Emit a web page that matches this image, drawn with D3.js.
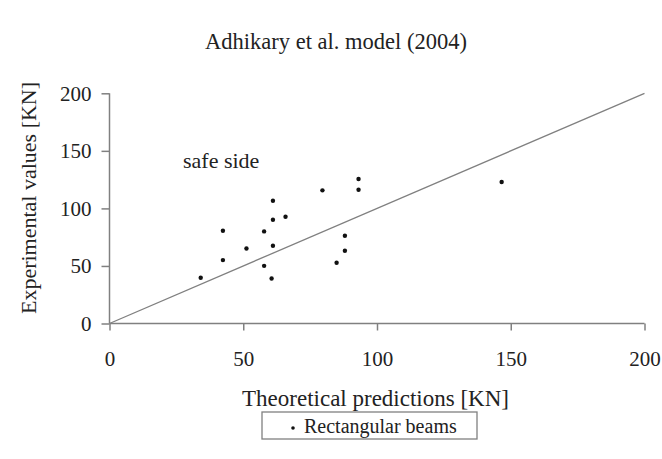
<!DOCTYPE html>
<html>
<head>
<meta charset="utf-8">
<script src="https://cdn.jsdelivr.net/npm/d3@7"></script>
<style>
  body { margin: 0; background: #fff; }
</style>
</head>
<body>
<div id="chart"></div>
<script>
// data
const predicted = [34.1, 42.4, 42.4, 51.2, 57.8, 57.8, 60.6, 61.1, 61.1, 61.1, 65.8, 79.6, 84.9, 88.0, 88.0, 93.1, 93.1, 146.6];
const experimental = [39.7, 55.1, 80.6, 65.2, 80.0, 50.1, 39.1, 67.5, 90.1, 106.7, 92.8, 115.7, 52.8, 76.2, 63.2, 125.5, 116.2, 122.9];
const xTicks = [0, 50, 100, 150, 200];
const yTicks = [0, 50, 100, 150, 200];
const diagonal = [[0, 0], [200, 200]];

const width = 662, height = 459;
const serif = "Liberation Serif";
const axisColor = "#808080";

const svg = d3.select("#chart").append("svg")
  .attr("width", width)
  .attr("height", height);

const x = d3.scaleLinear().domain([0, 200]).range([109.5, 644.5]);
const y = d3.scaleLinear().domain([0, 200]).range([323.5, 93.3]);

// title
svg.append("text")
  .attr("x", 336).attr("y", 49)
  .attr("text-anchor", "middle")
  .attr("font-family", serif)
  .attr("font-size", 22.5)
  .attr("fill", "#222")
  .text("Adhikary et al. model (2004)");

// axes
const xAxis = svg.append("g")
  .attr("transform", `translate(0,${y(0)})`)
  .call(d3.axisBottom(x).tickValues(xTicks).tickSize(7).tickPadding(21));
const yAxis = svg.append("g")
  .attr("transform", `translate(${x(0)},0)`)
  .call(d3.axisLeft(y).tickValues(yTicks).tickSize(8).tickPadding(10));

[xAxis, yAxis].forEach((g) => {
  g.select(".domain").attr("stroke", axisColor).attr("stroke-width", 1.5);
  g.selectAll(".tick line").attr("stroke", axisColor).attr("stroke-width", 1.5);
  g.selectAll(".tick text")
    .attr("fill", "#222")
    .attr("font-family", serif)
    .attr("font-size", 21);
});
xAxis.select(".domain").attr("d", `M${x(0)},0H${x(200)}`);
yAxis.select(".domain").attr("d", `M0,${y(0)}V${y(200)}`);

// y = x line
svg.append("path")
  .datum(diagonal)
  .attr("fill", "none")
  .attr("stroke", axisColor)
  .attr("stroke-width", 1.3)
  .attr("d", d3.line().x((d) => x(d[0])).y((d) => y(d[1])));

// points
svg.append("g")
  .selectAll("circle")
  .data(predicted.map((p, i) => [p, experimental[i]]))
  .enter()
  .append("circle")
  .attr("cx", (d) => x(d[0]))
  .attr("cy", (d) => y(d[1]))
  .attr("r", 2.2)
  .attr("fill", "#111");

svg.append("text")
  .attr("x", 183).attr("y", 168)
  .attr("font-family", serif)
  .attr("font-size", 22)
  .attr("fill", "#222")
  .text("safe side");

// axis titles
svg.append("text")
  .attr("x", 375.5).attr("y", 406)
  .attr("text-anchor", "middle")
  .attr("font-family", serif)
  .attr("font-size", 23)
  .attr("fill", "#222")
  .text("Theoretical predictions [KN]");

svg.append("text")
  .attr("transform", "translate(36,198) rotate(-90)")
  .attr("text-anchor", "middle")
  .attr("font-family", serif)
  .attr("font-size", 22)
  .attr("fill", "#222")
  .text("Experimental values [KN]");

// legend
const legend = svg.append("g").attr("transform", "translate(262,412)");
legend.append("rect")
  .attr("width", 215).attr("height", 27)
  .attr("fill", "#fff")
  .attr("stroke", axisColor)
  .attr("stroke-width", 1.3);
legend.append("circle")
  .attr("cx", 31).attr("cy", 16).attr("r", 1.8)
  .attr("fill", "#111");
legend.append("text")
  .attr("x", 42).attr("y", 21)
  .attr("font-family", serif)
  .attr("font-size", 20)
  .attr("fill", "#222")
  .text("Rectangular beams");
</script>
</body>
</html>
